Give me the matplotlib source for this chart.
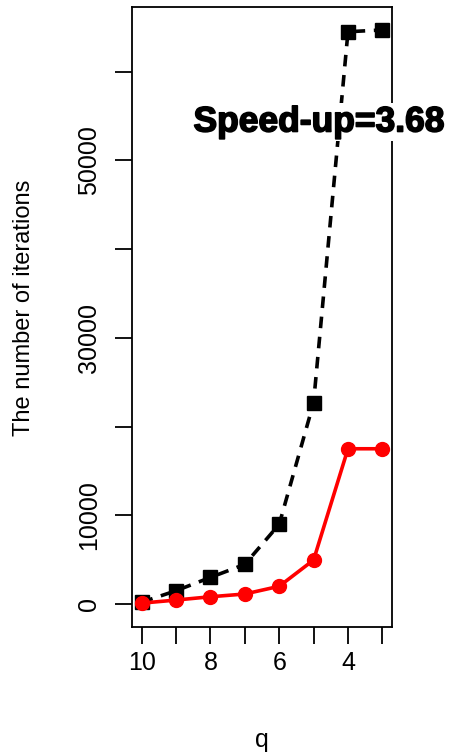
import matplotlib
matplotlib.use("Agg")
import matplotlib.pyplot as plt
import matplotlib.patheffects as pe

q = [10, 9, 8, 7, 6, 5, 4, 3]
iters_black = [200, 1500, 3000, 4470, 8980, 22700, 64500, 64700]
iters_red = [100, 450, 820, 1130, 2000, 4960, 17500, 17500]
yticks = [0, 10000, 20000, 30000, 40000, 50000, 60000]
ytick_labels = ["0", "10000", "", "30000", "", "50000", ""]
xticks = [10, 9, 8, 7, 6, 5, 4, 3]
xtick_labels = ["10", "", "8", "", "6", "", "4", ""]
annot = "Speed-up=3.68"

plt.rcParams['font.family'] = ['Liberation Sans', 'DejaVu Sans']
fig = plt.figure(figsize=(4.5, 7.55), dpi=100)
ax = fig.add_axes([132/450, 1-627/755, 260/450, 620/755])

ax.plot(q, iters_black, color='black', ls=(0, (3.2, 2.4)), lw=2.6,
        marker='s', ms=10, zorder=2)
ax.plot(q, iters_red, color='red', ls='-', lw=2.6,
        marker='o', ms=10, zorder=3)

rng = max(iters_black) - 0
ax.set_ylim(0 - 0.04*rng, max(iters_black) + 0.04*rng)
ax.set_xlim(10 + 0.04*7, 3 - 0.04*7)

ax.set_yticks(yticks)
ax.set_yticklabels(ytick_labels, rotation=90, va='center')
ax.set_xticks(xticks)
ax.set_xticklabels(xtick_labels)
ax.tick_params(axis='both', length=12, width=1.3, color='black', labelsize=18)
ax.tick_params(axis='x', pad=5)
ax.tick_params(axis='y', pad=10)
for s in ax.spines.values():
    s.set_linewidth(1.3)

fig.text(24/450, 1-308/755, "The number of iterations", rotation=90,
         ha='center', va='center', fontsize=17)
fig.text(262/450, 1-740/755, "q", ha='center', va='center', fontsize=18)

t = ax.text((319-132)/260, (627-122)/620, annot, transform=ax.transAxes,
            ha='center', va='center', fontsize=25.5, fontweight='bold',
            clip_on=False, zorder=5,
            bbox=dict(facecolor='white', edgecolor='none', pad=2))
t.set_path_effects([pe.withStroke(linewidth=1.2, foreground='black')])

fig.savefig("out.png", dpi=100)
